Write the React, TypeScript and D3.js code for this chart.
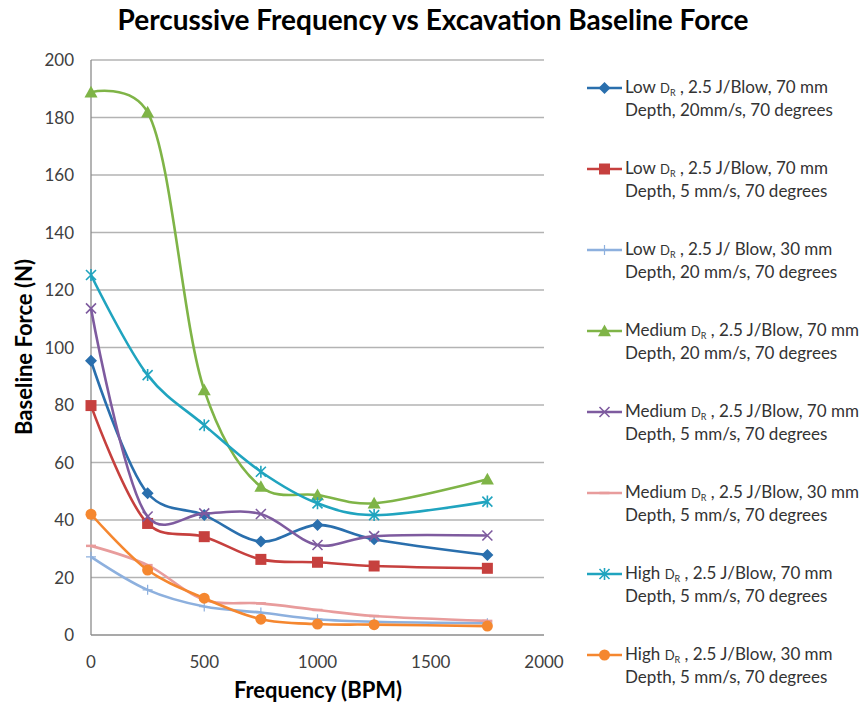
import React from "react";
import * as d3 from "d3";

// frequency (BPM) at which each series was measured
const frequencies = [0, 250, 500, 750, 1000, 1250, 1750];

// baseline force (N)
const lowDr70mm20 = [95.4, 49.3, 41.7, 32.5, 38.3, 33.3, 27.8];
const lowDr70mm5 = [79.8, 38.8, 34.2, 26.3, 25.3, 24.0, 23.2];
const lowDr30mm20 = [27.2, 15.7, 9.9, 7.8, 5.5, 4.6, 4.1];
const medDr70mm20 = [188.8, 181.8, 85.2, 51.6, 48.7, 45.8, 54.2];
const medDr70mm5 = [113.6, 41.2, 42.3, 42.1, 31.3, 34.4, 34.6];
const medDr30mm5 = [31.0, 24.3, 12.2, 11.0, 8.7, 6.6, 4.9];
const highDr70mm5 = [125.2, 90.4, 73.0, 56.8, 45.8, 41.7, 46.4];
const highDr30mm5 = [42.0, 22.6, 12.8, 5.5, 3.8, 3.6, 3.1];

const seriesValues = [lowDr70mm20, lowDr70mm5, lowDr30mm20, medDr70mm20, medDr70mm5, medDr30mm5, highDr70mm5, highDr30mm5];

// legend text: level, rest of first line, second line
const legendLevels = ["Low", "Low", "Low", "Medium", "Medium", "Medium", "High", "High"];
const legendLine1 = [", 2.5 J/Blow, 70 mm", ", 2.5 J/Blow, 70 mm", ", 2.5 J/ Blow, 30 mm", ", 2.5 J/Blow, 70 mm", ", 2.5 J/Blow, 70 mm", ", 2.5 J/Blow, 30 mm", ", 2.5 J/Blow, 70 mm", ", 2.5 J/Blow, 30 mm"];
const legendLine2 = ["Depth, 20mm/s, 70 degrees", "Depth, 5 mm/s, 70 degrees", "Depth, 20 mm/s, 70 degrees", "Depth, 20 mm/s, 70 degrees", "Depth, 5 mm/s, 70 degrees", "Depth, 5 mm/s, 70 degrees", "Depth, 5 mm/s, 70 degrees", "Depth, 5 mm/s, 70 degrees"];

const xTicks = [0, 500, 1000, 1500, 2000];
const yTicks = [0, 20, 40, 60, 80, 100, 120, 140, 160, 180, 200];

// styling
const colors = ["#2a6fad", "#c6403e", "#8db0de", "#7fb447", "#7e5b9f", "#e89c9c", "#20a4bf", "#f5872f"];
const markers = ["diamond", "square", "plus", "triangle", "x", "dash", "star", "circle"];

const W = 866;
const H = 708;
const FONT = "Lato, 'Open Sans', sans-serif";

function Marker({ type, x, y, color }: { type: string; x: number; y: number; color: string }) {
  if (type === "diamond") {
    const s = 6;
    return <path d={`M${x},${y - s}L${x + s},${y}L${x},${y + s}L${x - s},${y}Z`} fill={color} />;
  }
  if (type === "square") {
    const s = 5.5;
    return <rect x={x - s} y={y - s} width={2 * s} height={2 * s} fill={color} />;
  }
  if (type === "triangle") {
    const s = 6.5;
    return <path d={`M${x},${y - s}L${x + s},${y + s * 0.8}L${x - s},${y + s * 0.8}Z`} fill={color} />;
  }
  if (type === "circle") {
    return <circle cx={x} cy={y} r={5.5} fill={color} />;
  }
  if (type === "x") {
    const s = 5;
    return <path d={`M${x - s},${y - s}L${x + s},${y + s}M${x - s},${y + s}L${x + s},${y - s}`} stroke={color} strokeWidth={1.6} />;
  }
  if (type === "star") {
    const s = 5;
    return <path d={`M${x - s},${y - s}L${x + s},${y + s}M${x - s},${y + s}L${x + s},${y - s}M${x},${y - s - 1}L${x},${y + s + 1}`} stroke={color} strokeWidth={1.6} />;
  }
  if (type === "plus") {
    return <path d={`M${x},${y - 5}L${x},${y + 5}M${x - 5},${y}L${x + 5},${y}`} stroke={color} strokeWidth={1.2} />;
  }
  if (type === "dash") {
    return <path d={`M${x - 5},${y}L${x + 5},${y}`} stroke={color} strokeWidth={2.5} />;
  }
  return null;
}

export default function App() {
  const x = d3.scaleLinear().domain([0, 2000]).range([91, 544]);
  const y = d3.scaleLinear().domain([0, 200]).range([635, 60]);

  const line = d3
    .line<number>()
    .x((_, i) => x(frequencies[i]))
    .y((d) => y(d))
    .curve(d3.curveCatmullRom.alpha(0.25));

  const legendX = 587;
  const legendY0 = 88;
  const legendStep = 81;

  return (
    <svg width={W} height={H} style={{ position: "absolute", left: 0, top: 0, background: "#fff" }} fontFamily={FONT}>
      <text x={433} y={30} textAnchor="middle" fontSize={28} fontWeight="bold" fill="#000">
        Percussive Frequency vs Excavation Baseline Force
      </text>

      {/* gridlines */}
      {yTicks.slice(1).map((t) => (
        <line key={t} x1={x(0)} x2={x(2000)} y1={y(t)} y2={y(t)} stroke="#b3b3b3" strokeWidth={1.3} />
      ))}
      {/* axes */}
      <line x1={x(0)} x2={x(0)} y1={y(0)} y2={y(200)} stroke="#8c8c8c" strokeWidth={1.3} />
      <line x1={x(0)} x2={x(2000)} y1={y(0)} y2={y(0)} stroke="#8c8c8c" strokeWidth={1.3} />

      {yTicks.map((t) => (
        <text key={t} x={74} y={y(t) + 6} textAnchor="end" fontSize={17} fill="#404040">
          {t}
        </text>
      ))}
      {xTicks.map((t) => (
        <text key={t} x={x(t)} y={668} textAnchor="middle" fontSize={17} fill="#404040">
          {t}
        </text>
      ))}

      <text x={318} y={698} textAnchor="middle" fontSize={22} fontWeight="bold" fill="#000">
        Frequency (BPM)
      </text>
      <text transform={`translate(32,347) rotate(-90)`} textAnchor="middle" fontSize={22} fontWeight="bold" fill="#000">
        Baseline Force (N)
      </text>

      {/* series */}
      {seriesValues.map((vals, si) => (
        <g key={si}>
          <path d={line(vals) || ""} fill="none" stroke={colors[si]} strokeWidth={2.6} strokeLinejoin="round" />
          {vals.map((v, i) => (
            <Marker key={i} type={markers[si]} x={x(frequencies[i])} y={y(v)} color={colors[si]} />
          ))}
        </g>
      ))}

      {/* legend */}
      {seriesValues.map((_, si) => {
        const ly = legendY0 + si * legendStep;
        return (
          <g key={si}>
            <line x1={legendX} x2={legendX + 35} y1={ly} y2={ly} stroke={colors[si]} strokeWidth={2.6} />
            <Marker type={markers[si]} x={legendX + 17.5} y={ly} color={colors[si]} />
            <text x={legendX + 38} y={ly + 5} fontSize={17} fill="#333">
              {legendLevels[si]} <tspan fontSize={13}>D</tspan>
              <tspan fontSize={9} dy={3}>R</tspan>
              <tspan dy={-3}> {legendLine1[si]}</tspan>
            </text>
            <text x={legendX + 38} y={ly + 28} fontSize={17} fill="#333">
              {legendLine2[si]}
            </text>
          </g>
        );
      })}
    </svg>
  );
}
